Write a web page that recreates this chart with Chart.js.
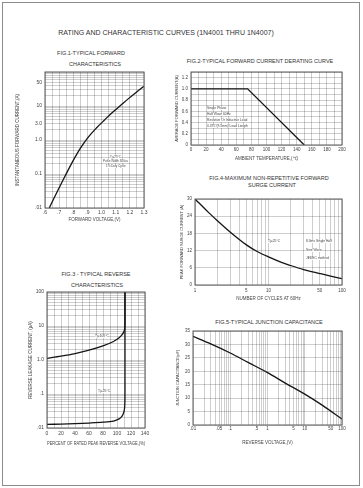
<!DOCTYPE html>
<html>
<head>
<meta charset="utf-8">
<script src="https://cdn.jsdelivr.net/npm/chart.js@4.4.1/dist/chart.umd.min.js"></script>
<style>
body{margin:0;background:#fff;font-family:"Liberation Sans",Arial,sans-serif;color:#333;}
#page{position:relative;width:363px;height:488px;overflow:hidden;}
#borde{position:absolute;left:2px;top:2px;width:356px;height:482px;border:1.5px solid #8c8c8c;}
.t{position:absolute;white-space:nowrap;transform:translate(-50%,-50%);line-height:1;}
.n{position:absolute;white-space:nowrap;line-height:1;font-size:3px;background:#fff;color:#444;}
canvas{position:absolute;}
</style>
</head>
<body>
<div id="page">
<div id="borde"></div>
<div class="t" style="left:166px;top:32px;font-size:7px;">RATING AND CHARACTERISTIC CURVES (1N4001 THRU 1N4007)</div>

<div class="t" style="left:91px;top:54px;font-size:5.5px;">FIG.1-TYPICAL FORWARD</div>
<div class="t" style="left:95px;top:65px;font-size:5.5px;">CHARACTERISTICS</div>
<div class="t" style="left:260px;top:62px;font-size:5.5px;">FIG.2-TYPICAL FORWARD CURRENT DERATING CURVE</div>
<div class="t" style="left:269px;top:179px;font-size:5.5px;">FIG.4-MAXIMUM NON-REPETITIVE FORWARD</div>
<div class="t" style="left:272px;top:185.5px;font-size:5.5px;">SURGE CURRENT</div>
<div class="t" style="left:96px;top:275px;font-size:5.5px;">FIG.3 - TYPICAL REVERSE</div>
<div class="t" style="left:97px;top:286px;font-size:5.5px;">CHARACTERISTICS</div>
<div class="t" style="left:269px;top:323px;font-size:5.5px;">FIG.5-TYPICAL JUNCTION CAPACITANCE</div>

<canvas id="fig1" width="137" height="155" style="left:15px;top:67px;"></canvas>
<canvas id="fig2" width="176" height="94" style="left:174px;top:67px;"></canvas>
<canvas id="fig4" width="171" height="107" style="left:179px;top:194px;"></canvas>
<canvas id="fig3" width="125" height="159" style="left:28px;top:287px;"></canvas>
<canvas id="fig5" width="175" height="119" style="left:175px;top:326px;"></canvas>

<div class="n" style="left:110px;top:156px;">Tj=25°C</div>
<div class="n" style="left:103px;top:160px;">Pulse Width 300us</div>
<div class="n" style="left:106px;top:164.5px;">1% Duty Cycle</div>

<div class="n" style="left:207px;top:106.5px;font-size:3.3px;">Single Phase</div>
<div class="n" style="left:207px;top:112.5px;font-size:3.3px;">Half Wave 60Hz</div>
<div class="n" style="left:207px;top:119px;font-size:3.3px;">Resistive Or Inductive Load</div>
<div class="n" style="left:207px;top:125px;font-size:3.3px;">0.375"(9.5mm) Lead Length</div>

<div class="n" style="left:268px;top:240px;font-size:3.3px;">Tj=25°C</div>
<div class="n" style="left:306px;top:240px;font-size:3.3px;">8.3ms Single Half</div>
<div class="n" style="left:306px;top:248.5px;font-size:3.3px;">Sine Wave</div>
<div class="n" style="left:306px;top:256.5px;font-size:3.3px;">JEDEC method</div>

<div class="n" style="left:95px;top:335px;font-size:3.3px;">Tj=100°C</div>
<div class="n" style="left:98px;top:390px;font-size:3.3px;">Tj=25°C</div>
</div>

<script>
/////////////////////////////////////////////////////////////////
//Datos leidos de la hoja

//Fig 1 - directa
const fwd_volt = [0.63, 0.686, 0.742, 0.797, 0.853, 0.909, 0.965, 1.021, 1.076, 1.132, 1.188, 1.244, 1.3];
const fwd_amp = [0.01, 0.03, 0.087, 0.24, 0.6, 1.26, 2.29, 3.89, 6.46, 10.2, 16.2, 25.1, 38];
const fwd_xticks = [0.6, 0.7, 0.8, 0.9, 1.0, 1.1, 1.2, 1.3];
const fwd_xlabels = ['.6', '.7', '.8', '.9', '1.0', '1.1', '1.2', '1.3'];
const fwd_yticks = [0.01, 0.1, 1, 3, 10, 50];
const fwd_ylabels = ['.01', '0.1', '1.0', '3.0', '10', '50'];

//Fig 2 - derating
const der_temp = [0, 75, 150];
const der_amp = [1.0, 1.0, 0];
const der_xticks = [0, 20, 40, 60, 80, 100, 120, 140, 160, 180, 200];
const der_xlabels = ['0', '20', '40', '60', '80', '100', '120', '140', '160', '180', '200'];
const der_yticks = [0, 0.2, 0.4, 0.6, 0.8, 1.0, 1.2];
const der_ylabels = ['0', '0.2', '0.4', '0.6', '0.8', '1.0', '1.2'];

//Fig 3 - inversa
const rev_pct_100 = [0, 20, 40, 60, 80, 95, 103, 107, 109.5, 110.8, 111.3, 111.4, 111.4];
const rev_ua_100 = [1.12, 1.3, 1.55, 1.95, 2.6, 3.5, 4.5, 5.5, 6.6, 8, 10, 20, 100];
const rev_pct_25 = [0, 20, 40, 60, 80, 95, 103, 107, 109.5, 110.8, 111.3, 111.4, 111.4];
const rev_ua_25 = [0.0128, 0.013, 0.0134, 0.014, 0.0148, 0.016, 0.0185, 0.022, 0.028, 0.038, 0.06, 0.2, 100];
const rev_xticks = [0, 20, 40, 60, 80, 100, 120, 140];
const rev_xlabels = ['0', '20', '40', '60', '80', '100', '120', '140'];
const rev_yticks = [0.01, 0.1, 1, 10, 100];
const rev_ylabels = ['.01', '.1', '1.0', '10', '100'];

//Fig 4 - surge
const surge_cyc = [1, 1.5, 2, 3, 5, 7, 10, 15, 20, 30, 50, 70, 100];
const surge_amp = [30, 25.5, 22.5, 18.5, 14, 11.7, 9.8, 7.9, 6.8, 5.4, 4, 3.1, 2.2];
const surge_xticks = [1, 5, 10, 50, 100];
const surge_xlabels = ['1', '5', '10', '50', '100'];
const surge_yticks = [0, 6, 12, 18, 24, 30];
const surge_ylabels = ['0', '6', '12', '18', '24', '30'];

//Fig 5 - capacitancia
const cap_volt = [0.01, 0.03, 0.1, 0.3, 1, 3, 10, 30, 100];
const cap_pf = [33, 30.2, 26.8, 23.3, 19.5, 15.6, 11.5, 7.3, 2.2];
const cap_xticks = [0.01, 0.05, 0.1, 0.5, 1, 5, 10, 50, 100];
const cap_xlabels = ['.01', '.05', '.1', '.5', '1', '5', '10', '50', '100'];
const cap_yticks = [0, 5, 10, 15, 20, 25, 30, 35];
const cap_ylabels = ['0', '5', '10', '15', '20', '25', '30', '35'];

/////////////////////////////////////////////////////////////////
//Ayudas

Chart.defaults.font.family = '"Liberation Sans", Arial, sans-serif';
Chart.defaults.color = '#444';
Chart.defaults.animation = false;

const color_rejilla = 'rgba(0,0,0,0.32)';
const color_curva = '#151515';

//marco negro alrededor del area
const marco = {
  id: 'marco',
  afterDraw(chart) {
    const a = chart.chartArea;
    const ctx = chart.ctx;
    ctx.save();
    ctx.strokeStyle = '#5a5a5a';
    ctx.lineWidth = 1;
    ctx.strokeRect(a.left, a.top, a.right - a.left, a.bottom - a.top);
    ctx.restore();
  }
};

function ancho(w) {
  return s => { s.width = w; s.paddingTop = 0; s.paddingBottom = 0; };
}
function alto(h) {
  return s => { s.height = h; s.paddingLeft = 0; s.paddingRight = 0; };
}

//rejilla log 1..9 por decada
function rejilla_log(s) {
  const t = [];
  const e0 = Math.floor(Math.log10(s.min) + 1e-9);
  const e1 = Math.ceil(Math.log10(s.max) - 1e-9);
  for (let e = e0; e <= e1; e++) {
    for (let k = 1; k < 10; k++) {
      const v = +(k * Math.pow(10, e)).toPrecision(6);
      if (v >= s.min * 0.9999 && v <= s.max * 1.0001) t.push({value: v});
    }
  }
  s.ticks = t;
}

function etiqueta(vals, txt) {
  return v => {
    const i = vals.findIndex(x => Math.abs(x - v) <= Math.abs(x) * 1e-6 + 1e-9);
    return i < 0 ? '' : txt[i];
  };
}

function puntos(xs, ys) {
  return xs.map((x, i) => ({x: x, y: ys[i]}));
}

function eje(extra) {
  return Object.assign({
    grid: {color: color_rejilla, lineWidth: 0.6, drawTicks: false},
    border: {display: false}
  }, extra);
}

const base_plugins = {legend: {display: false}, tooltip: {enabled: false}};

/////////////////////////////////////////////////////////////////
//Fig 1
new Chart(document.getElementById('fig1'), {
  type: 'scatter',
  data: {datasets: [{
    data: puntos(fwd_volt, fwd_amp), showLine: true,
    borderColor: color_curva, borderWidth: 1.3, pointRadius: 0,
    cubicInterpolationMode: 'monotone'
  }]},
  options: {
    responsive: false,
    layout: {padding: {top: 5, right: 8}},
    plugins: base_plugins,
    scales: {
      x: eje({type: 'linear', min: 0.6, max: 1.3, afterFit: alto(14),
        ticks: {stepSize: 0.05, autoSkip: false, maxRotation: 0, padding: 2, font: {size: 5},
          callback: etiqueta(fwd_xticks, fwd_xlabels)},
        title: {display: true, text: 'FORWARD VOLTAGE,(V)', font: {size: 4.5}, padding: 0}}),
      y: eje({type: 'logarithmic', min: 0.01, max: 100, afterFit: ancho(30), afterBuildTicks: rejilla_log,
        ticks: {autoSkip: false, padding: 3, font: {size: 5},
          callback: etiqueta(fwd_yticks, fwd_ylabels)},
        title: {display: true, text: 'INSTANTANEOUS FORWARD CURRENT,(A)', font: {size: 4.5}, padding: 0}})
    }
  },
  plugins: [marco]
});

//Fig 2
new Chart(document.getElementById('fig2'), {
  type: 'scatter',
  data: {datasets: [{
    data: puntos(der_temp, der_amp), showLine: true,
    borderColor: color_curva, borderWidth: 1.3, pointRadius: 0
  }]},
  options: {
    responsive: false,
    layout: {padding: {top: 5, right: 8}},
    plugins: base_plugins,
    scales: {
      x: eje({type: 'linear', min: 0, max: 200, afterFit: alto(16),
        ticks: {stepSize: 10, autoSkip: false, maxRotation: 0, padding: 2, font: {size: 4.5},
          callback: etiqueta(der_xticks, der_xlabels)},
        title: {display: true, text: 'AMBIENT TEMPERATURE,(\u2103)', font: {size: 4.5}, padding: 0}}),
      y: eje({type: 'linear', min: 0, max: 1.3, afterFit: ancho(17),
        ticks: {stepSize: 0.1, autoSkip: false, padding: 3, font: {size: 4.5},
          callback: etiqueta(der_yticks, der_ylabels)},
        title: {display: true, text: 'AVERAGE FORWARD CURRENT(A)', font: {size: 4}, padding: 0}})
    }
  },
  plugins: [marco]
});

//Fig 4
new Chart(document.getElementById('fig4'), {
  type: 'scatter',
  data: {datasets: [{
    data: puntos(surge_cyc, surge_amp), showLine: true,
    borderColor: color_curva, borderWidth: 1.3, pointRadius: 0,
    cubicInterpolationMode: 'monotone'
  }]},
  options: {
    responsive: false,
    layout: {padding: {top: 5, right: 8}},
    plugins: base_plugins,
    scales: {
      x: eje({type: 'logarithmic', min: 1, max: 100, afterFit: alto(16), afterBuildTicks: rejilla_log,
        ticks: {autoSkip: false, maxRotation: 0, padding: 3, font: {size: 4.5},
          callback: etiqueta(surge_xticks, surge_xlabels)},
        title: {display: true, text: 'NUMBER OF CYCLES AT 60Hz', font: {size: 4.5}, padding: 0}}),
      y: eje({type: 'linear', min: 0, max: 30, afterFit: ancho(16),
        ticks: {stepSize: 6, autoSkip: false, padding: 3, font: {size: 4.5},
          callback: etiqueta(surge_yticks, surge_ylabels)},
        title: {display: true, text: 'PEAK FORWARD SURGE CURRENT (A)', font: {size: 4}, padding: 0}})
    }
  },
  plugins: [marco]
});

//Fig 3
new Chart(document.getElementById('fig3'), {
  type: 'scatter',
  data: {datasets: [{
    data: puntos(rev_pct_100, rev_ua_100), showLine: true,
    borderColor: color_curva, borderWidth: 1.3, pointRadius: 0, tension: 0.3
  }, {
    data: puntos(rev_pct_25, rev_ua_25), showLine: true,
    borderColor: color_curva, borderWidth: 1.3, pointRadius: 0, tension: 0.3
  }]},
  options: {
    responsive: false,
    layout: {padding: {top: 5, right: 8}},
    plugins: base_plugins,
    scales: {
      x: eje({type: 'linear', min: 0, max: 140, afterFit: alto(18),
        ticks: {stepSize: 10, autoSkip: false, maxRotation: 0, padding: 3, font: {size: 5},
          callback: etiqueta(rev_xticks, rev_xlabels)},
        title: {display: true, text: 'PERCENT OF RATED PEAK REVERSE VOLTAGE,(%)', font: {size: 4.5}, padding: 0}}),
      y: eje({type: 'logarithmic', min: 0.01, max: 100, afterFit: ancho(19), afterBuildTicks: rejilla_log,
        ticks: {autoSkip: false, padding: 3, font: {size: 5},
          callback: etiqueta(rev_yticks, rev_ylabels)},
        title: {display: true, text: 'REVERSE LEAKAGE CURRENT, (\u03bcA)', font: {size: 4.5}, padding: 0}})
    }
  },
  plugins: [marco]
});

//Fig 5
new Chart(document.getElementById('fig5'), {
  type: 'scatter',
  data: {datasets: [{
    data: puntos(cap_volt, cap_pf), showLine: true,
    borderColor: color_curva, borderWidth: 1.3, pointRadius: 0,
    cubicInterpolationMode: 'monotone'
  }]},
  options: {
    responsive: false,
    layout: {padding: {top: 5, right: 8}},
    plugins: base_plugins,
    scales: {
      x: eje({type: 'logarithmic', min: 0.01, max: 100, afterFit: alto(20), afterBuildTicks: rejilla_log,
        ticks: {autoSkip: false, maxRotation: 0, padding: 1, font: {size: 4.5},
          callback: etiqueta(cap_xticks, cap_xlabels)},
        title: {display: true, text: 'REVERSE VOLTAGE,(V)', font: {size: 4.5}, padding: 0}}),
      y: eje({type: 'linear', min: 0, max: 35, afterFit: ancho(18),
        ticks: {stepSize: 5, autoSkip: false, padding: 3, font: {size: 4.5},
          callback: etiqueta(cap_yticks, cap_ylabels)},
        title: {display: true, text: 'JUNCTION CAPACITANCE(pF)', font: {size: 4}, padding: 0}})
    }
  },
  plugins: [marco]
});
</script>
</body>
</html>
